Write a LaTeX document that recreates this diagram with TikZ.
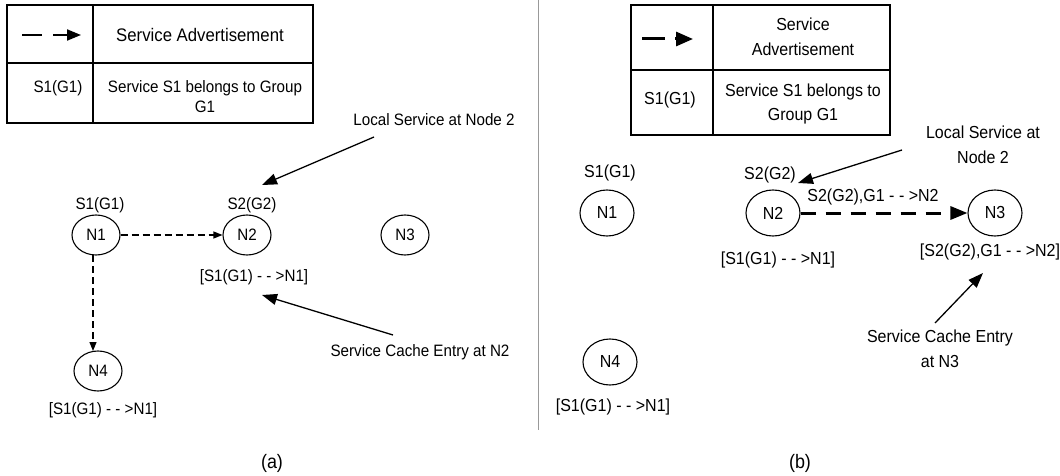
\documentclass[tikz,border=0pt]{standalone}
\usepackage{fontspec}
\setmainfont[FakeStretch=0.92]{Liberation Sans}
\usetikzlibrary{arrows.meta,shapes.geometric}
\begin{document}
\begin{tikzpicture}[x=1pt,y=-1pt,
  every node/.style={font=\fontsize{16.5}{20}\selectfont, inner sep=0pt},
  lbl/.style={align=center},
  lbr/.style={align=center, font=\fontsize{17.4}{24.5}\selectfont},
  capt/.style={font=\fontsize{19.5}{22}\selectfont},
  nodea/.style={ellipse, draw, line width=1.1pt, minimum width=48pt, minimum height=40pt},
  nodeb/.style={ellipse, draw, line width=1.1pt, minimum width=54pt, minimum height=46pt, font=\fontsize{17.4}{20}\selectfont},
  adv/.style={dash pattern=on 7pt off 4pt, line width=1.2pt, -{Triangle[length=9pt,width=7pt]}},
  advb/.style={dash pattern=on 15pt off 10pt, line width=3pt, -{Triangle[length=17pt,width=13pt]}},
  pointer/.style={line width=1.3pt, -{Triangle[length=15pt,width=11pt]}},
  tbl/.style={line width=1.1pt}
]
\useasboundingbox (0,0) rectangle (1060,476);

% ---------------- panel (a) ----------------
\draw[tbl] (7,5) rectangle (313,123);
\draw[tbl] (93,5) -- (93,123);
\draw[tbl] (7,63) -- (313,63);
\coordinate (la1) at (22,35); \coordinate (la2) at (42,35);
\coordinate (la3) at (53,35); \coordinate (la4) at (81,35);
\draw[line width=2pt] (la1) -- (la2);
\draw[line width=2pt,-{Triangle[length=14pt,width=11pt]}] (la3) -- (la4);
\node[lbl, font=\fontsize{18.2}{20}\selectfont] (tA1) at (200,35) {Service Advertisement};
\node[lbl] (tA2) at (58,88) {S1(G1)};
\node[lbl] (tA3) at (205,97) {Service S1 belongs to Group\\G1};

\node (a1) [nodea] at (96,235) {N1};
\node (a2) [nodea] at (247,235) {N2};
\node (a3) [nodea] at (405,235) {N3};
\node (a4) [nodea] at (98,371) {N4};
\node (a1s) at (100,205) {S1(G1)};
\node (a2s) at (252,205) {S2(G2)};
\node (a2c) at (254,277) {[S1(G1) - - >N1]};
\node (a4c) at (103,410) {[S1(G1) - - >N1]};
\draw[adv] (a1) -- (a2);
\coordinate (a1b) at (93,255);
\coordinate (a4t) at (93,351);
\draw[adv] (a1b) -- (a4t);

\node (locA) at (434,120) {Local Service at Node 2};
\node (cacheA) at (420,352) {Service Cache Entry at N2};
\coordinate (locAtail) at (374,137);
\coordinate (locAtip) at (262,185);
\coordinate (cacheAtail) at (393,335);
\coordinate (cacheAtip) at (262,295);
\draw[pointer] (locAtail) -- (locAtip);
\draw[pointer] (cacheAtail) -- (cacheAtip);
\node[capt] (capA) at (272,463) {(a)};

% separator
\draw[gray!80, line width=1pt] (538,0) -- (538,430);

% ---------------- panel (b) ----------------
\draw[tbl] (631,5) rectangle (890,135);
\draw[tbl] (713,5) -- (713,135);
\draw[tbl] (631,70) -- (890,70);
\draw[line width=3pt] (642,39) -- (665,39);
\draw[line width=3pt,-{Triangle[length=17pt,width=14pt]}] (675,39) -- (693,39);
\node[lbr] (tB1) at (803,37) {Service\\Advertisement};
\node[lbr] (tB2) at (670,100) {S1(G1)};
\node[lbr] (tB3) at (803,104) {Service S1 belongs to\\Group G1};

\node (b1) [nodeb] at (607,213) {N1};
\node (b2) [nodeb] at (773,213) {N2};
\node (b3) [nodeb] at (995,213) {N3};
\node (b4) [nodeb] at (610,362) {N4};
\node[lbr] (b1s) at (610,173) {S1(G1)};
\node[lbr] (b2s) at (770,175) {S2(G2)};
\node[lbr] (b23l) at (873,197) {S2(G2),G1 - - >N2};
\node[lbr] (b2c) at (778,260) {[S1(G1) - - >N1]};
\node[lbr] (b3c) at (990,252) {[S2(G2),G1 - - >N2]};
\node[lbr] (b4c) at (613,407) {[S1(G1) - - >N1]};
\draw[advb] (b2) -- (b3);

\node[lbr] (locB) at (983,145) {Local Service at\\Node 2};
\node[lbr] (cacheB) at (940,349) {Service Cache Entry\\at N3};
\coordinate (locBtail) at (902,150);
\coordinate (locBtip) at (798,183);
\coordinate (cacheBtail) at (935,323);
\coordinate (cacheBtip) at (983,273);
\draw[pointer] (locBtail) -- (locBtip);
\draw[pointer] (cacheBtail) -- (cacheBtip);
\node[capt] (capB) at (800,463) {(b)};
\end{tikzpicture}
\end{document}
